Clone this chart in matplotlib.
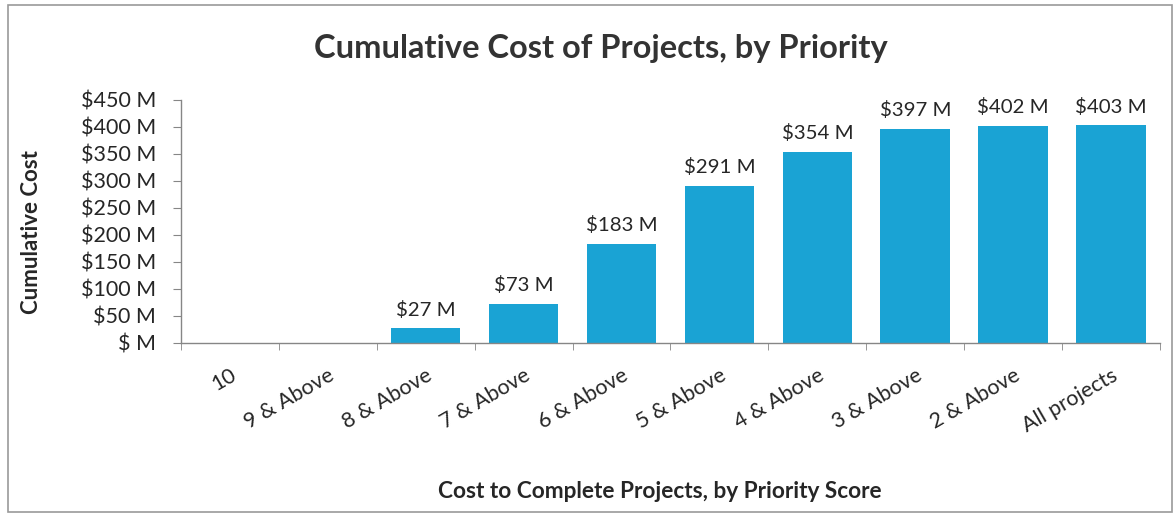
import matplotlib
matplotlib.use("Agg")
import matplotlib.pyplot as plt
from matplotlib.ticker import FuncFormatter, FixedLocator
from matplotlib.patches import Rectangle

categories = ["10", "9 & Above", "8 & Above", "7 & Above", "6 & Above",
              "5 & Above", "4 & Above", "3 & Above", "2 & Above", "All projects"]
values = [0, 0, 27, 73, 183, 291, 354, 397, 402, 403]
yticks = [0, 50, 100, 150, 200, 250, 300, 350, 400, 450]

plt.rcParams['font.family'] = ['Lato', 'DejaVu Sans']
bar_color = '#1AA3D4'
text_color = '#262626'
axis_color = '#868686'

fig = plt.figure(figsize=(11.76, 5.15), dpi=100)
fig.patch.set_facecolor('white')
fig.add_artist(Rectangle((0.007, 0.005), 0.99, 0.985, transform=fig.transFigure,
                         fill=False, edgecolor='#9a9a9a', linewidth=1.2))

ax = fig.add_axes([0.1539, 0.334, 0.8325, 0.472])
x = list(range(len(categories)))
bars = ax.bar(x, values, width=0.71, color=bar_color, zorder=2)

ax.set_xlim(-0.5, len(categories) - 0.5)
ax.set_ylim(0, 450)
ax.set_yticks(yticks)
ax.yaxis.set_major_formatter(FuncFormatter(lambda v, p: "$ M" if v == 0 else f"${int(v)} M"))
ax.tick_params(axis='y', labelsize=15.5, colors=axis_color, labelcolor=text_color,
               length=6, direction='out', pad=12)

ax.set_xticks(x)
ax.set_xticklabels(categories, rotation=30, ha='right', rotation_mode='anchor',
                   fontsize=15.5, color=text_color)
ax.tick_params(axis='x', which='major', length=0, pad=16)
ax.xaxis.set_minor_locator(FixedLocator([i - 0.5 for i in range(len(categories) + 1)]))
ax.tick_params(axis='x', which='minor', length=5, color=axis_color, direction='out')

for s in ['top', 'right']:
    ax.spines[s].set_visible(False)
for s in ['left', 'bottom']:
    ax.spines[s].set_color(axis_color)
    ax.spines[s].set_linewidth(1.0)

for xi, v in zip(x, values):
    if v > 0:
        ax.annotate(f"${v} M", (xi, v), xytext=(0, 7), textcoords='offset points',
                    ha='center', va='bottom', fontsize=14.7, color=text_color)

fig.text(0.511, 0.905, "Cumulative Cost of Projects, by Priority", ha='center', va='center',
         fontsize=23.5, fontweight='bold', color='#333333')
fig.text(0.561, 0.045, "Cost to Complete Projects, by Priority Score", ha='center', va='center',
         fontsize=16.3, fontweight='bold', color=text_color)
fig.text(0.027, 0.55, "Cumulative Cost", ha='center', va='center', rotation=90,
         fontsize=16, fontweight='bold', color=text_color)

fig.savefig("out.png", dpi=100, facecolor='white')
